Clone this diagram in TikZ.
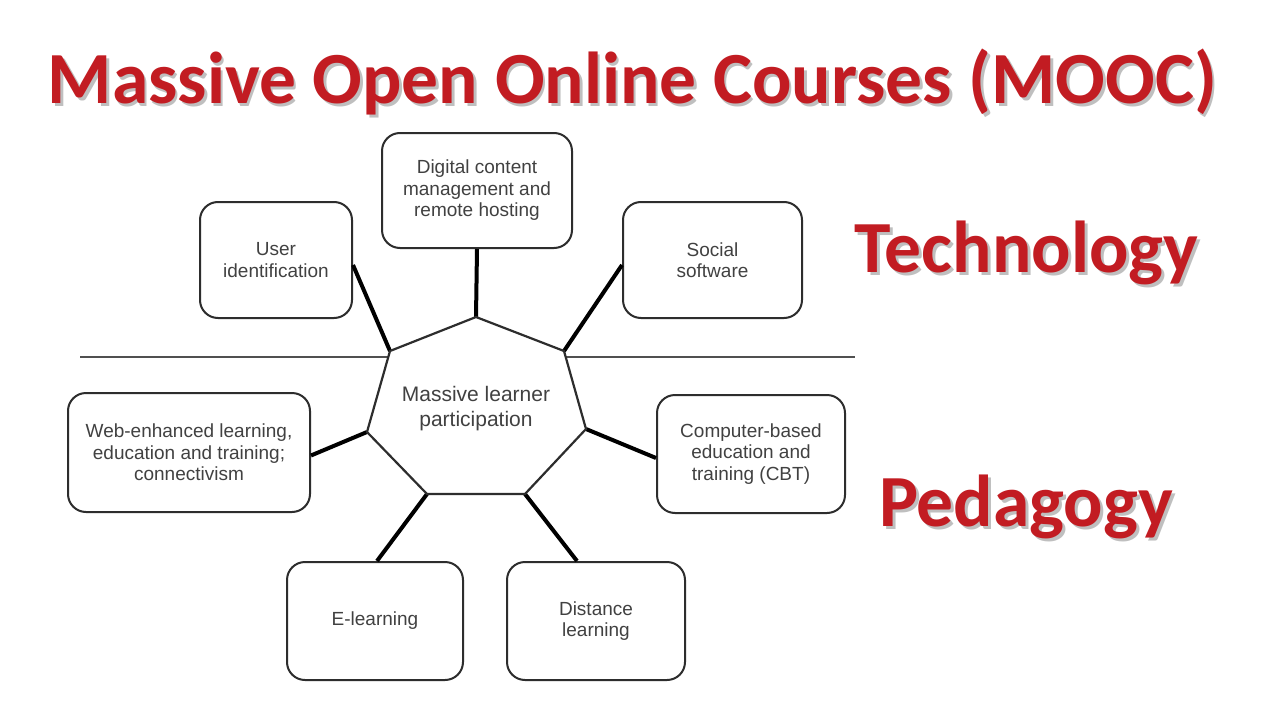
\documentclass[tikz,border=0pt]{standalone}
\usepackage{fontspec}
\setmainfont{Liberation Sans}
\newfontfamily\titlefont{Carlito}
\usetikzlibrary{calc}
\definecolor{titlered}{RGB}{194,28,34}
\definecolor{boxtext}{RGB}{65,65,65}
\definecolor{boxline}{RGB}{45,45,45}
\definecolor{hline}{RGB}{80,80,80}
\begin{document}
\begin{tikzpicture}[x=1pt,y=-1pt,
  box/.style={draw=boxline, line width=2pt, rounded corners=18pt, fill=white,
    text=boxtext, align=center, font=\fontsize{19}{21.5}\selectfont, inner sep=0pt},
  conn/.style={line width=4pt, black},
  big/.style={font=\titlefont\bfseries\fontsize{73.5}{80}\selectfont, text=titlered, anchor=base, inner sep=0pt},
  bigshadow/.style={big, text=black, opacity=0.25},
]
\useasboundingbox[fill=white] (0,0) rectangle (1280,720);

% divider line
\coordinate (lineL) at (80,357);
\coordinate (lineR) at (855,357);
\draw[hline, line width=2pt] (lineL) -- (lineR);

% heptagon vertices
\coordinate (h1) at (476,317);
\coordinate (h2) at (564,351);
\coordinate (h3) at (586,429);
\coordinate (h4) at (525,494);
\coordinate (h5) at (427,494);
\coordinate (h6) at (367,432);
\coordinate (h7) at (390,351);

% boxes
\node[box, minimum width=152pt, minimum height=116pt] (uid) at (276,260) {User\\identification};
\node[box, minimum width=190pt, minimum height=115pt] (dig) at (477,190.5) {Digital content\\management and\\remote hosting};
\node[box, minimum width=179pt, minimum height=116pt] (soc) at (712.5,260) {Social\\software};
\node[box, minimum width=242pt, minimum height=119pt] (web) at (189,452.5) {Web-enhanced learning,\\education and training;\\connectivism};
\node[box, minimum width=188pt, minimum height=118pt] (cbt) at (751,454) {Computer-based\\education and\\training (CBT)};
\node[box, minimum width=176pt, minimum height=118pt] (el) at (375,621) {E-learning};
\node[box, minimum width=178pt, minimum height=118pt] (dl) at (596,621) {Distance\\learning};

% connectors
\draw[conn] ($(uid.east)+(0,5)$) -- (h7);
\draw[conn] (dig.south) -- (h1);
\draw[conn] ($(soc.west)+(0,5)$) -- (h2);
\draw[conn] ($(web.east)+(0,3)$) -- (h6);
\draw[conn] ($(cbt.west)+(0,4)$) -- (h3);
\draw[conn] ($(el.north)+(2,0)$) -- (h5);
\draw[conn] ($(dl.north)+(-19,0)$) -- (h4);

% heptagon
\filldraw[fill=white, draw=boxline, line width=2.2pt, line join=miter]
  (h1) -- (h2) -- (h3) -- (h4) -- (h5) -- (h6) -- (h7) -- cycle;
\node[text=boxtext, align=center, font=\fontsize{21}{25}\selectfont, inner sep=0pt] (mlp) at (476,409) {Massive learner\\participation};

% big texts with shadows
\node[bigshadow] (titleS) at (635,106) {Massive Open Online Courses (MOOC)};
\node[big] (title) at (632.5,103) {Massive Open Online Courses (MOOC)};

\node[bigshadow] (techS) at (1029.5,275) {Technology};
\node[big] (tech) at (1026.5,272) {Technology};

\node[bigshadow] (pedS) at (1029,529) {Pedagogy};
\node[big] (ped) at (1026,526) {Pedagogy};
\end{tikzpicture}
\end{document}
